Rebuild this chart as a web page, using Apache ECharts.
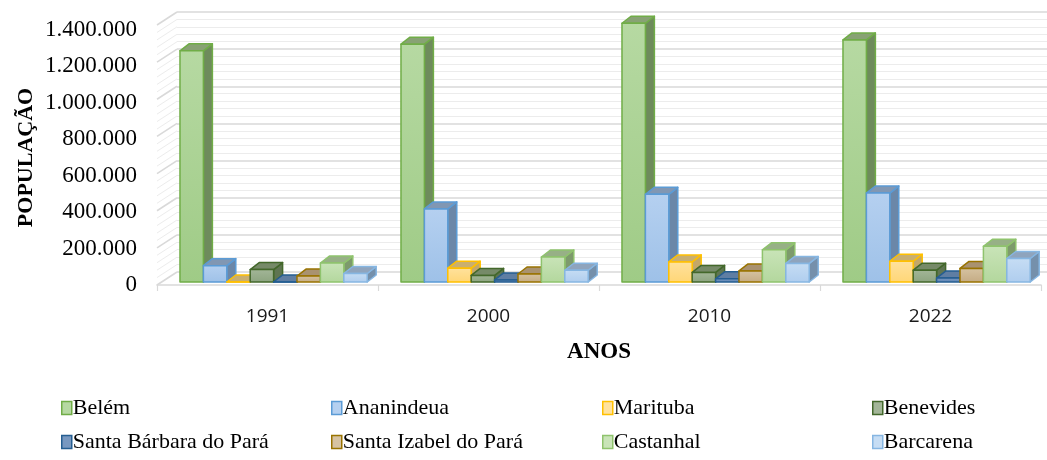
<!DOCTYPE html>
<html>
<head>
<meta charset="utf-8">
<script src="https://cdn.jsdelivr.net/npm/echarts@6/dist/echarts.min.js"></script>
<style>
html,body{margin:0;padding:0;background:#fff;}
#chart{width:1047px;height:460px;}
</style>
</head>
<body>
<div id="chart"></div>
<script>
// ---- data ----
const years = ['1991', '2000', '2010', '2022'];
const cities = ['Belém', 'Ananindeua', 'Marituba', 'Benevides', 'Santa Bárbara do Pará', 'Santa Izabel do Pará', 'Castanhal', 'Barcarena'];
const belem = [1244689, 1280614, 1393399, 1303403];
const ananindeua = [88151, 393569, 471980, 478778];
const marituba = [0, 74429, 108246, 111785];
const benevides = [67000, 35546, 51651, 63567];
const santaBarbara = [0, 11378, 17141, 21079];
const santaIzabel = [32000, 43227, 59466, 73019];
const castanhal = [102071, 134496, 173149, 192262];
const barcarena = [45946, 63268, 99859, 126650];
const yTickLabels = [0, 200000, 400000, 600000, 800000, 1000000, 1200000, 1400000];

const seriesValues = [belem, ananindeua, marituba, benevides, santaBarbara, santaIzabel, castanhal, barcarena];

// ---- styles ----
const palette = [
  {f1:'#b6d9a2', f2:'#9fcb86', b:'#70ad47', side:'#6e8b5c', top:'#88a274'},
  {f1:'#b5d0f0', f2:'#9ec1e8', b:'#5b9bd5', side:'#6b87a8', top:'#8197b3'},
  {f1:'#ffe29e', f2:'#ffd676', b:'#ffc000', side:'#c4a868', top:'#c9af70'},
  {f1:'#a3b698', f2:'#8ca47f', b:'#43682b', side:'#5f7551', top:'#768a68'},
  {f1:'#7898c0', f2:'#5f84b3', b:'#255e91', side:'#4d6a8c', top:'#5f7ea3'},
  {f1:'#d6c3a2', f2:'#c4ab83', b:'#997300', side:'#9a8565', top:'#a99270'},
  {f1:'#c9e4b8', f2:'#b3d79d', b:'#8fc36d', side:'#7d9a6c', top:'#97b086'},
  {f1:'#c6ddf4', f2:'#afcdee', b:'#86b6e2', side:'#7590ab', top:'#8fa4bd'}
];
const DX = 9, DY = -7, LIFT = 3;
const WALL_DX = 20, WALL_DY = -13;

function fmt(v){ return String(v).replace(/\B(?=(\d{3})+(?!\d))/g, '.'); }

function barRenderer(i){
  const p = palette[i];
  return function(params, api){
    const k = api.value(0), v = api.value(1);
    const c = api.coord([k, v]);
    const c0 = api.coord([k, 0]);
    const bw = api.size([1, 0])[0];
    const w = bw * 0.1059;
    const L = c[0] - bw * 0.396 + i * w;
    const R = L + w;
    const top = c[1] - LIFT;
    const base = c0[1] - LIFT;
    const stroke = {stroke: p.b, lineWidth: 1.5, lineJoin:'round'};
    return {
      type: 'group',
      children: [
        {type:'polygon', shape:{points:[[R, top],[R+DX, top+DY],[R+DX, base+DY],[R, base]]},
          style:Object.assign({fill:p.side}, stroke)},
        {type:'polygon', shape:{points:[[L, top],[L+DX, top+DY],[R+DX, top+DY],[R, top]]},
          style:Object.assign({fill:p.top}, stroke)},
        {type:'rect', shape:{x:L, y:top, width:w, height:Math.max(0, base-top)},
          style:Object.assign({fill:{type:'linear',x:0,y:0,x2:0,y2:1,colorStops:[{offset:0,color:p.f1},{offset:1,color:p.f2}]}}, stroke)}
      ]
    };
  };
}

// left wall diagonal lines (major + minor), drawn through the front axis scale
const wallSteps = [];
for (let j = 0; j < yTickLabels.length - 1; j++) {
  for (let m = 0; m < 5; m++) wallSteps.push({v: yTickLabels[j] + (yTickLabels[j+1]-yTickLabels[j]) * m / 5, major: m === 0});
}
wallSteps.push({v: yTickLabels[yTickLabels.length-1], major: true});

const series = [];
series.push({
  type:'custom', name:'_wall', xAxisIndex:0, yAxisIndex:0, silent:true, z:1,
  data:[[0,0]],
  renderItem:function(params, api){
    const children = wallSteps.map(function(s){
      const c = api.coord([0, s.v]);
      const x0 = params.coordSys.x;
      return {type:'line', shape:{x1:x0, y1:c[1], x2:x0+WALL_DX, y2:c[1]+WALL_DY},
        style:{stroke: s.major ? '#d9d9d9' : '#ececec', lineWidth: s.major ? 1.6 : 1}};
    });
    return {type:'group', children:children};
  }
});
cities.forEach(function(name, i){
  series.push({
    type:'custom', name:name, xAxisIndex:0, yAxisIndex:0, z:3,
    itemStyle:{color:palette[i].f2, borderColor:palette[i].b, borderWidth:1.5},
    encode:{x:0, y:1},
    data: years.map(function(y, k){ return [k, seriesValues[i][k]]; }),
    renderItem: barRenderer(i)
  });
});

const legendCols = [[0,4],[1,5],[2,6],[3,7]];
const legendLeft = [61, 331, 602, 872];
const legends = legendCols.map(function(col, ci){
  return {
    orient:'vertical', left:legendLeft[ci], top:397, padding:0, itemGap:12,
    icon:'rect', itemWidth:10, itemHeight:13, selectedMode:false,
    textStyle:{fontFamily:'Liberation Serif', fontSize:22, color:'#000', padding:[0,0,0,-4]},
    data: col.map(function(i){ return {name:cities[i], itemStyle:{color:palette[i].f1, borderColor:palette[i].b, borderWidth:1.5}}; })
  };
});

const option = {
  backgroundColor:'#fff',
  animation:false,
  legend: legends,
  grid:[
    {left:157, right:6, top:25, bottom:175},   // front plane
    {left:177, right:0, top:12, bottom:188},   // back wall
    {left:157, right:6, top:30, bottom:175}    // tick labels
  ],
  xAxis:[
    {type:'category', gridIndex:0, data:years, boundaryGap:true,
      axisLine:{show:true, lineStyle:{color:'#d9d9d9', width:1.6}},
      axisTick:{show:true, length:6, lineStyle:{color:'#d9d9d9', width:1.2}},
      axisLabel:{fontFamily:'Open Sans', fontSize:19, color:'#1a1a1a', margin:22},
      name:'ANOS', nameLocation:'middle', nameGap:56,
      nameTextStyle:{fontFamily:'Liberation Serif', fontWeight:'bold', fontSize:23, color:'#000'}},
    {type:'value', gridIndex:1, show:false, min:0, max:1},
    {type:'value', gridIndex:2, show:false, min:0, max:1}
  ],
  yAxis:[
    {type:'value', gridIndex:0, min:0, max:1400000, interval:200000, show:false},
    {type:'value', gridIndex:1, min:0, max:1400000, interval:200000,
      axisLine:{show:false}, axisTick:{show:false}, axisLabel:{show:false},
      splitLine:{show:true, lineStyle:{color:'#d9d9d9', width:1.6}},
      minorTick:{show:false, splitNumber:5},
      minorSplitLine:{show:true, lineStyle:{color:'#ececec', width:1}}},
    {type:'value', gridIndex:2, min:0, max:1400000, interval:200000,
      axisLine:{show:false}, axisTick:{show:false}, splitLine:{show:false},
      axisLabel:{fontFamily:'Liberation Serif', fontSize:23, color:'#000', margin:20,
        formatter:function(v){ return yTickLabels.indexOf(v) >= 0 ? fmt(v) : ''; }},
      name:'POPULAÇÃO', nameLocation:'middle', nameRotate:90, nameGap:120, nameMoveOverlap:false,
      nameTextStyle:{fontFamily:'Liberation Serif', fontWeight:'bold', fontSize:22, color:'#000'}}
  ],
  series: series
};

const chart = echarts.init(document.getElementById('chart'), null, {renderer:'canvas'});
chart.setOption(option);
</script>
</body>
</html>
